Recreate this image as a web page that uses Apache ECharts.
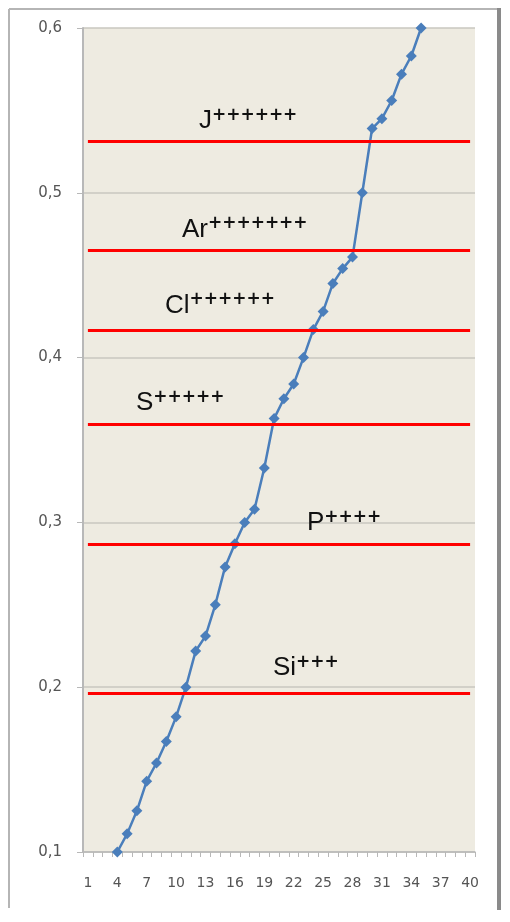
<!DOCTYPE html>
<html>
<head>
<meta charset="utf-8">
<script src="https://cdn.jsdelivr.net/npm/echarts@6/dist/echarts.min.js"></script>
<style>
  html, body { margin: 0; padding: 0; background: #fff; }
  #chart { width: 510px; height: 922px; }
</style>
</head>
<body>
<div id="chart"></div>
<script>
// categories 1..40
const categories = ['1','2','3','4','5','6','7','8','9','10','11','12','13','14','15','16','17','18','19','20',
  '21','22','23','24','25','26','27','28','29','30','31','32','33','34','35','36','37','38','39','40']

// values (none for 1-3 and 36-40)
const values = [null, null, null,
  0.100, 0.111, 0.125, 0.143, 0.154, 0.167, 0.182, 0.200, 0.222, 0.231,
  0.250, 0.273, 0.287, 0.300, 0.308, 0.333, 0.363, 0.375, 0.384, 0.400,
  0.417, 0.428, 0.445, 0.454, 0.461, 0.500, 0.539, 0.545, 0.556, 0.572,
  0.583, 0.600,
  null, null, null, null, null]

// ion levels (red lines)
const ionNames = ['J', 'Ar', 'Cl', 'S', 'P', 'Si']
const ionCharges = ['++++++', '+++++++', '++++++', '+++++', '++++', '+++']
const ionLevels = [0.531, 0.465, 0.4165, 0.3597, 0.2869, 0.1966]

// y axis ticks
const yMin = 0.1
const yMax = 0.6
const yStep = 0.1

const chart = echarts.init(document.getElementById('chart'))

// label offsets from the left end of each red line
const labelOffsets = [[103, 0], [86, 0], [69, -4], [40, 0], [211, 0], [177, -4]]

const markData = ionLevels.map((lvl, i) => [
    {
        coord: [categories[0], lvl],
        label: {
            show: true,
            position: 'insideStartTop',
            distance: 8,
            offset: labelOffsets[i],
            formatter: '{m|' + ionNames[i] + '}{s|' + ionCharges[i] + '}',
            rich: {
                m: { fontSize: 26, fontFamily: 'Liberation Sans', color: '#111', lineHeight: 27, verticalAlign: 'bottom' },
                s: { fontSize: 17, fontFamily: 'DejaVu Sans', fontWeight: 'bold', color: '#111', lineHeight: 27, verticalAlign: 'top', padding: [0, 0, 8, 0] }
            }
        }
    },
    { coord: [categories[categories.length - 1], lvl] }
])

const option = {
    backgroundColor: '#fff',
    animation: false,
    grid: {
        left: 83,
        right: 35,
        top: 28,
        bottom: 70,
        show: true,
        backgroundColor: '#EEEBE1',
        borderWidth: 0
    },
    xAxis: {
        type: 'category',
        data: categories,
        boundaryGap: true,
        axisLine: { lineStyle: { color: '#B8B8B8', width: 1.5 } },
        axisTick: { show: true, interval: 0, length: 5, lineStyle: { color: '#B8B8B8' } },
        axisLabel: {
            interval: 2,
            margin: 24,
            fontSize: 14,
            fontFamily: 'DejaVu Sans',
            color: '#555'
        },
        splitLine: { show: false }
    },
    yAxis: {
        type: 'value',
        min: yMin,
        max: yMax,
        interval: yStep,
        axisLine: { show: true, lineStyle: { color: '#B8B8B8', width: 2 } },
        axisTick: { show: true, length: 6, lineStyle: { color: '#B8B8B8' } },
        axisLabel: {
            margin: 21,
            fontSize: 15,
            fontFamily: 'DejaVu Sans',
            color: '#555',
            formatter: v => v.toFixed(1).replace('.', ',')
        },
        splitLine: { show: true, lineStyle: { color: '#C9C7BF', width: 1.5 } }
    },
    series: [
        {
            type: 'line',
            data: values,
            connectNulls: false,
            showSymbol: true,
            showAllSymbol: true,
            symbol: 'diamond',
            symbolSize: 11,
            itemStyle: { color: '#4A7EBB' },
            lineStyle: { color: '#4A7EBB', width: 2.5 },
            z: 3
        },
        {
            type: 'line',
            data: [],
            markLine: {
                silent: true,
                symbol: ['none', 'none'],
                lineStyle: { color: '#FF0000', width: 3, type: 'solid' },
                data: markData
            },
            z: 4
        }
    ],
    graphic: [
        { type: 'line', shape: { x1: 9, y1: 9, x2: 498, y2: 9 }, style: { stroke: '#B5B5B5', lineWidth: 2 } },
        { type: 'line', shape: { x1: 9, y1: 9, x2: 9, y2: 908 }, style: { stroke: '#B5B5B5', lineWidth: 2 } },
        { type: 'line', shape: { x1: 499, y1: 8, x2: 499, y2: 910 }, style: { stroke: '#8A8A8A', lineWidth: 4 } }
    ]
}

chart.setOption(option)
</script>
</body>
</html>
